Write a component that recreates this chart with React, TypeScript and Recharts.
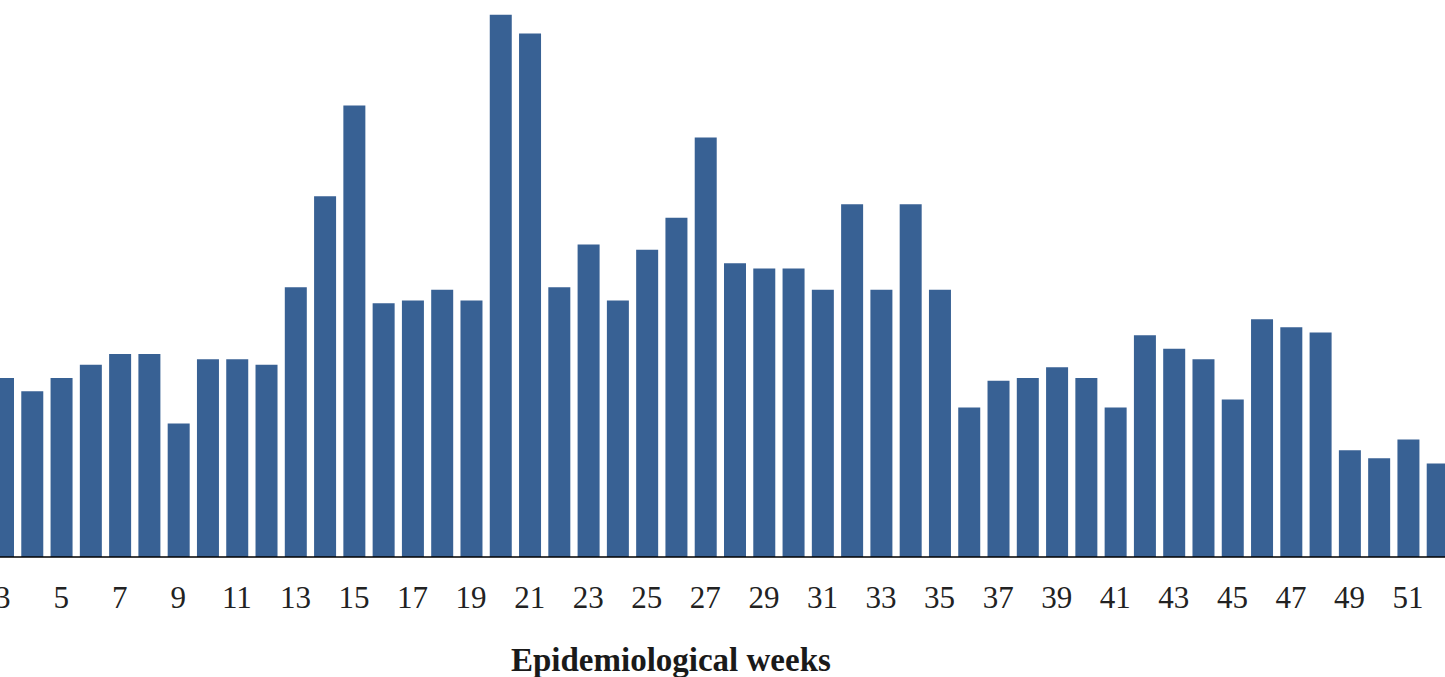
import React from 'react';
import { BarChart, Bar, XAxis, YAxis, Label } from 'recharts';

const weeks = [
  '3', '4', '5', '6', '7', '8', '9', '10', '11', '12',
  '13', '14', '15', '16', '17', '18', '19', '20', '21', '22',
  '23', '24', '25', '26', '27', '28', '29', '30', '31', '32',
  '33', '34', '35', '36', '37', '38', '39', '40', '41', '42',
  '43', '44', '45', '46', '47', '48', '49', '50', '51', '52',
];

const cases = [
  67, 62, 67, 72, 76, 76, 50, 74, 74, 72,
  101, 135, 169, 95, 96, 100, 96, 203, 196, 101,
  117, 96, 115, 127, 157, 110, 108, 108, 100, 132,
  100, 132, 100, 56, 66, 67, 71, 67, 56, 83,
  78, 74, 59, 89, 86, 84, 40, 37, 44, 35,
];

const yTicks = [0, 70, 140, 210];
const xTitle = 'Epidemiological weeks';

const data = weeks.map((w, i) => ({ week: w, cases: cases[i] }));

export default function App() {
  return (
    <div
      style={{
        position: 'fixed',
        left: 0,
        top: 0,
        width: 1445,
        height: 677,
        overflow: 'hidden',
        background: '#fff',
      }}
    >
      <div style={{ position: 'absolute', left: -11.94, top: -4.5 }}>
        <BarChart
          width={1464}
          height={682}
          data={data}
          margin={{ top: 0, right: 0, bottom: 0, left: 0 }}
          barCategoryGap={0}
        >
          <YAxis hide domain={[0, 210]} ticks={yTicks} allowDataOverflow />
          <XAxis
            dataKey="week"
            interval={1}
            tickLine={false}
            tickSize={0}
            tickMargin={28.5}
            height={121}
            axisLine={{ stroke: '#000', strokeWidth: 1.5 }}
            tick={{ fontFamily: 'Liberation Serif', fontSize: 31, fill: '#222' }}
          >
            <Label
              content={() => (
                <text
                  x={682.9}
                  y={674.5}
                  textAnchor="middle"
                  fontFamily="Liberation Serif"
                  fontWeight="bold"
                  fontSize={33}
                  fill="#1a1a1a"
                >
                  {xTitle}
                </text>
              )}
            />
          </XAxis>
          <Bar dataKey="cases" fill="#386194" barSize={22} isAnimationActive={false} />
        </BarChart>
      </div>
    </div>
  );
}
